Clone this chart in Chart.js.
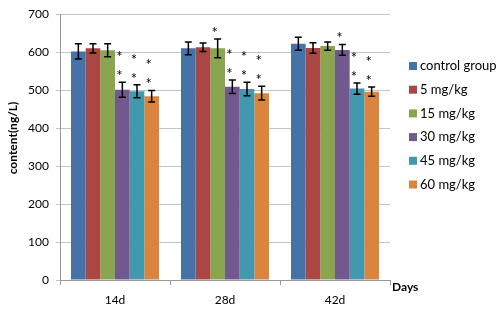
<!DOCTYPE html>
<html>
<head>
<meta charset="utf-8">
<script src="https://cdn.jsdelivr.net/npm/chart.js@4"></script>
<style>
  body { margin: 0; background: #fff; }
  #wrap { width: 500px; height: 313px; }
</style>
</head>
<body>
<div id="wrap"><canvas id="myChart" width="500" height="313"></canvas></div>
<script>
var days = ['14d', '28d', '42d'];
var groups = ['control group', '5 mg/kg', '15 mg/kg', '30 mg/kg', '45 mg/kg', '60 mg/kg'];
var colors = ['#4572a7', '#aa4643', '#89a54e', '#71588f', '#4198af', '#db843d'];

// mean per group, one value per day
var control = [602, 610, 622];
var mg5 = [610, 613, 611];
var mg15 = [605, 610, 616];
var mg30 = [501, 509, 606];
var mg45 = [497, 503, 504];
var mg60 = [484, 492, 496];

// standard deviation
var control_sd = [20, 17, 17];
var mg5_sd = [12, 11, 14];
var mg15_sd = [17, 25, 11];
var mg30_sd = [20, 18, 14];
var mg45_sd = [17, 18, 15];
var mg60_sd = [15, 18, 12];

// number of asterisks above each bar
var control_sig = [0, 0, 0];
var mg5_sig = [0, 0, 0];
var mg15_sig = [0, 1, 0];
var mg30_sig = [2, 2, 1];
var mg45_sig = [2, 2, 2];
var mg60_sig = [2, 2, 2];

var values = [control, mg5, mg15, mg30, mg45, mg60];
var errors = [control_sd, mg5_sd, mg15_sd, mg30_sd, mg45_sd, mg60_sd];
var stars = [control_sig, mg5_sig, mg15_sig, mg30_sig, mg45_sig, mg60_sig];

var font = 'Lato, "Liberation Sans", sans-serif';

var datasets = [];
for (var i = 0; i < groups.length; i++) {
  datasets.push({
    label: groups[i],
    data: values[i],
    sd: errors[i],
    sig: stars[i],
    backgroundColor: colors[i],
    borderWidth: 0,
    categoryPercentage: 0.8,
    barPercentage: 1.0
  });
}

var extras = {
  id: 'extras',
  afterDatasetsDraw: function(chart) {
    var ctx = chart.ctx;
    var y = chart.scales.y;
    ctx.save();
    chart.data.datasets.forEach(function(ds, i) {
      var meta = chart.getDatasetMeta(i);
      meta.data.forEach(function(bar, j) {
        var top = y.getPixelForValue(ds.data[j] + ds.sd[j]);
        var bot = y.getPixelForValue(ds.data[j] - ds.sd[j]);
        ctx.strokeStyle = '#000';
        ctx.lineWidth = 1.5;
        ctx.beginPath();
        ctx.moveTo(bar.x, top); ctx.lineTo(bar.x, bot);
        ctx.moveTo(bar.x - 3.5, top); ctx.lineTo(bar.x + 3.5, top);
        ctx.moveTo(bar.x - 3.5, bot); ctx.lineTo(bar.x + 3.5, bot);
        ctx.stroke();
        ctx.fillStyle = '#000';
        ctx.font = '15px ' + font;
        ctx.textAlign = 'center';
        ctx.textBaseline = 'middle';
        for (var k = 0; k < ds.sig[j]; k++) {
          ctx.fillText('*', bar.x - 3, top - 6 - k * 19);
        }
      });
    });
    ctx.restore();
  },
  afterDraw: function(chart) {
    var ctx = chart.ctx;
    var area = chart.chartArea;
    ctx.save();
    // legend
    ctx.font = '13px ' + font;
    ctx.textBaseline = 'middle';
    ctx.textAlign = 'left';
    chart.data.datasets.forEach(function(ds, i) {
      var cy = 66 + i * 23.7;
      ctx.fillStyle = ds.backgroundColor;
      ctx.fillRect(409, cy - 4, 8, 8);
      ctx.fillStyle = '#000';
      ctx.fillText(ds.label, 420, cy);
    });
    // axis titles
    ctx.font = 'bold 12px ' + font;
    ctx.fillText('Days', area.right + 2, 287);
    ctx.translate(13, 138);
    ctx.rotate(-Math.PI / 2);
    ctx.textAlign = 'center';
    ctx.fillText('content(ng/L)', 0, 0);
    ctx.restore();
  }
};

var myChart = new Chart(document.getElementById('myChart'), {
  type: 'bar',
  data: { labels: days, datasets: datasets },
  options: {
    responsive: false,
    animation: false,
    layout: { padding: { top: 11, right: 110, left: 0, bottom: 0 } },
    plugins: { legend: { display: false }, tooltip: { enabled: false } },
    scales: {
      x: {
        afterFit: function(s) { s.height = 33; },
        grid: { drawOnChartArea: false, color: '#999', tickLength: 5 },
        border: { color: '#999' },
        ticks: { color: '#000', font: { family: font, size: 12 }, padding: 8 }
      },
      y: {
        min: 0, max: 700,
        afterFit: function(s) { s.width = 60; },
        grid: { color: '#c4c4c4', tickLength: 4 },
        border: { color: '#999' },
        ticks: { stepSize: 100, color: '#000', font: { family: font, size: 12 }, padding: 7 }
      }
    }
  },
  plugins: [extras]
});
</script>
</body>
</html>
